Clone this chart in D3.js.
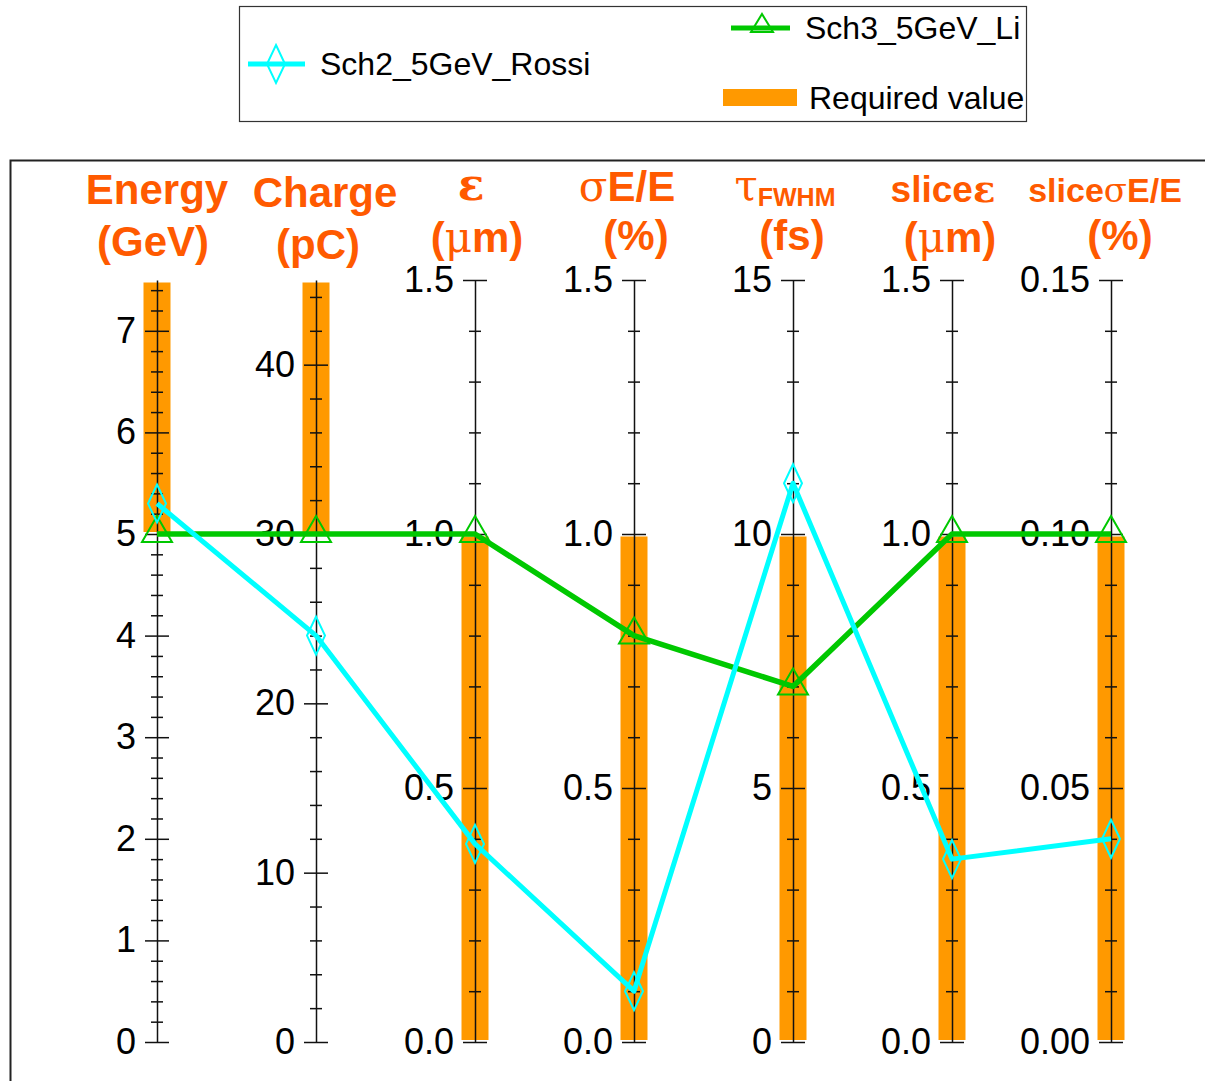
<!DOCTYPE html>
<html><head><meta charset="utf-8">
<script src="https://cdn.jsdelivr.net/npm/d3@7"></script>
<style>body{margin:0;background:#fff} svg{display:block}</style>
</head><body>
<svg id="c" width="1205" height="1081"></svg>
<script>
// ---- data ----
const axisKeys = ["Energy", "Charge", "eps", "sigmaE", "tau", "sliceEps", "sliceSigmaE"];
const axisMax = [7.5, 45, 1.5, 1.5, 15, 1.5, 0.15];
const majorTicks = [
  [0, 1, 2, 3, 4, 5, 6, 7],
  [0, 10, 20, 30, 40],
  [0, 0.5, 1.0, 1.5],
  [0, 0.5, 1.0, 1.5],
  [0, 5, 10, 15],
  [0, 0.5, 1.0, 1.5],
  [0, 0.05, 0.10, 0.15]
];
const minorStep = [0.2, 2, 0.1, 0.1, 1, 0.1, 0.01];
const tickFormats = ["d", "d", ".1f", ".1f", "d", ".1f", ".2f"];
const reqLow  = [5, 30, 0, 0, 0, 0, 0];
const reqHigh = [7.5, 45, 1.0, 1.0, 10, 1.0, 0.10];
const rossi = [5.3, 24, 0.39, 0.10, 11.0, 0.36, 0.040];
const li    = [5.0, 30, 1.0, 0.80, 7.0, 1.0, 0.10];
const seriesNames = ["Sch2_5GeV_Rossi", "Sch3_5GeV_Li", "Required value"];

// ---- layout ----
const svg = d3.select("#c");
const yTop = 280, yBot = 1042;
const x = d3.scalePoint().domain(axisKeys).range([157, 1111]);
const ys = axisMax.map(m => d3.scaleLinear().domain([0, m]).range([yBot, yTop]));
const orange = "#FF9900", cyan = "#00FFFF", green = "#00C800", titleCol = "#FF5A00";
const FONT = "'Liberation Sans', Arial, sans-serif";
const GREEK = "'DejaVu Serif', 'Liberation Serif', serif";

// frame
svg.append("rect").attr("x", 10.5).attr("y", 160.5).attr("width", 1220).attr("height", 960)
  .attr("fill", "none").attr("stroke", "#222").attr("stroke-width", 2);

// required-value bars
const barW = 27;
svg.append("g").selectAll("rect").data(axisKeys).join("rect")
  .attr("x", (k) => x(k) - barW / 2)
  .attr("width", barW)
  .attr("y", (k, i) => ys[i](reqHigh[i]) + 2.5)
  .attr("height", (k, i) => ys[i](reqLow[i]) - ys[i](reqHigh[i]) - 4.5)
  .attr("fill", orange);

// axes
axisKeys.forEach((k, i) => {
  const y = ys[i];
  const g = svg.append("g").attr("transform", `translate(${x(k)},0)`);
  const minor = d3.range(0, axisMax[i] - minorStep[i] / 10, minorStep[i])
    .filter(v => !majorTicks[i].some(m => Math.abs(m - v) < minorStep[i] / 10));
  const mL = g.append("g").call(d3.axisLeft(y).tickValues(minor).tickSize(6).tickSizeOuter(0).tickFormat(""));
  const mR = g.append("g").call(d3.axisRight(y).tickValues(minor).tickSize(6).tickSizeOuter(0).tickFormat(""));
  const aL = g.append("g").call(d3.axisLeft(y).tickValues(majorTicks[i]).tickSize(12).tickSizeOuter(0)
    .tickPadding(9).tickFormat(d3.format(tickFormats[i])));
  const aR = g.append("g").call(d3.axisRight(y).tickValues(majorTicks[i]).tickSize(12).tickSizeOuter(0).tickFormat(""));
  [mR, aR, mL].forEach(s => s.select(".domain").remove());
  g.selectAll("line").attr("stroke", "#111").attr("stroke-width", 1.5);
  g.selectAll(".domain").attr("stroke", "#111").attr("stroke-width", 1.5);
  g.selectAll("text").attr("font-family", FONT).attr("font-size", 36).attr("fill", "#000");
});

// lines
const line = d3.line().x((d, i) => x(axisKeys[i])).y((d, i) => ys[i](d));
svg.append("path").datum(li).attr("d", line).attr("fill", "none")
  .attr("stroke", green).attr("stroke-width", 5.5).attr("stroke-linejoin", "round");
svg.append("path").datum(rossi).attr("d", line).attr("fill", "none")
  .attr("stroke", cyan).attr("stroke-width", 5).attr("stroke-linejoin", "round");

const triPath = (cx, cy) => `M${cx},${cy - 18}L${cx + 15},${cy + 8}L${cx - 15},${cy + 8}Z`;
const diaPath = (cx, cy) => `M${cx},${cy - 19}L${cx + 9},${cy}L${cx},${cy + 19}L${cx - 9},${cy}Z`;
svg.append("g").selectAll("path").data(li).join("path")
  .attr("d", (d, i) => triPath(x(axisKeys[i]), ys[i](d)))
  .attr("fill", "none").attr("stroke", green).attr("stroke-width", 2);
svg.append("g").selectAll("path").data(rossi).join("path")
  .attr("d", (d, i) => diaPath(x(axisKeys[i]), ys[i](d)))
  .attr("fill", "none").attr("stroke", cyan).attr("stroke-width", 2);

// titles
const titles = [
  {cx: 157, l1: [["Energy", 0]], y1: 204, l2: "(GeV)", c2: 153, y2: 256, fs: 42},
  {cx: 325, l1: [["Charge", 0]], y1: 207, l2: "(pC)", c2: 318, y2: 259, fs: 42},
  {cx: 471, l1: [["ε", 1]], y1: 200, l2: "(μm)", c2: 477, y2: 252, fs: 44},
  {cx: 627, l1: [["σ", 1], ["E/E", 0]], y1: 201, l2: "(%)", c2: 636, y2: 250, fs: 42},
  {cx: 785, l1: null, y1: 200, l2: "(fs)", c2: 792, y2: 250, fs: 42},
  {cx: 943, l1: [["slice", 0], ["ε", 1]], y1: 202, l2: "(μm)", c2: 950, y2: 252, fs: 37},
  {cx: 1105, l1: [["slice", 0], ["σ", 1], ["E/E", 0]], y1: 202, l2: "(%)", c2: 1120, y2: 250, fs: 34}
];
titles.forEach(t => {
  if (t.l1) {
    const tx = svg.append("text").attr("x", t.cx).attr("y", t.y1).attr("text-anchor", "middle")
      .attr("fill", titleCol).attr("font-size", t.fs).attr("font-family", FONT).attr("font-weight", "bold");
    t.l1.forEach(([s, g]) => {
      const sp = tx.append("tspan").text(s);
      if (g) sp.attr("font-family", GREEK).attr("font-weight", s === "ε" ? "bold" : "normal");
    });
  } else {
    const tx = svg.append("text").attr("x", t.cx).attr("y", t.y1).attr("text-anchor", "middle")
      .attr("fill", titleCol).attr("font-family", FONT).attr("font-weight", "bold");
    tx.append("tspan").text("τ").attr("font-family", GREEK).attr("font-weight", "normal").attr("font-size", 42);
    tx.append("tspan").text("FWHM").attr("font-size", 25).attr("dy", 6);
  }
  const t2 = svg.append("text").attr("x", t.c2).attr("y", t.y2).attr("text-anchor", "middle")
    .attr("fill", titleCol).attr("font-size", 42).attr("font-family", FONT).attr("font-weight", "bold");
  if (t.l2 === "(μm)") {
    t2.append("tspan").text("(");
    t2.append("tspan").text("μ").attr("font-family", GREEK).attr("font-weight", "normal");
    t2.append("tspan").text("m)");
  } else t2.text(t.l2);
});

// legend
const lg = svg.append("g");
lg.append("rect").attr("x", 239.5).attr("y", 6.5).attr("width", 787).attr("height", 115)
  .attr("fill", "#fff").attr("stroke", "#333").attr("stroke-width", 1.2);
// Rossi
lg.append("line").attr("x1", 248).attr("x2", 305).attr("y1", 64).attr("y2", 64)
  .attr("stroke", cyan).attr("stroke-width", 5);
lg.append("path").attr("d", diaPath(276, 64)).attr("fill", "none").attr("stroke", cyan).attr("stroke-width", 2);
lg.append("text").attr("x", 320).attr("y", 75).text(seriesNames[0])
  .attr("font-family", FONT).attr("font-size", 32).attr("fill", "#000");
// Li
lg.append("line").attr("x1", 731).attr("x2", 790).attr("y1", 28).attr("y2", 28)
  .attr("stroke", green).attr("stroke-width", 5);
lg.append("path").attr("d", `M762,14L773,32L751,32Z`).attr("fill", "none").attr("stroke", green).attr("stroke-width", 2);
lg.append("text").attr("x", 805).attr("y", 39).text(seriesNames[1])
  .attr("font-family", FONT).attr("font-size", 32).attr("fill", "#000");
// required
lg.append("rect").attr("x", 723).attr("y", 89).attr("width", 74).attr("height", 17).attr("fill", orange);
lg.append("text").attr("x", 809).attr("y", 109).text(seriesNames[2])
  .attr("font-family", FONT).attr("font-size", 32).attr("fill", "#000");
</script>
</body></html>
